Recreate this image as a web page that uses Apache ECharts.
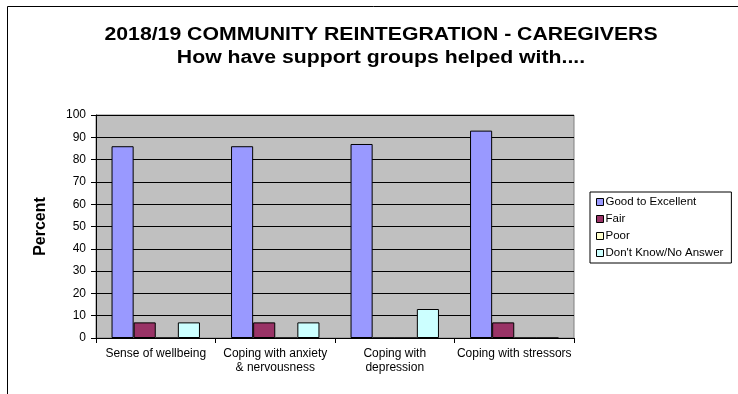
<!DOCTYPE html>
<html>
<head>
<meta charset="utf-8">
<script src="https://cdn.jsdelivr.net/npm/echarts@6/dist/echarts.min.js"></script>
<style>
  html, body { margin: 0; padding: 0; background: #fff; }
  #chart { width: 738px; height: 394px; }
</style>
</head>
<body>
<div id="chart"></div>
<script>
// categories and values
var categories = ['Sense of wellbeing', 'Coping with anxiety\n& nervousness', 'Coping with\ndepression', 'Coping with stressors'];
var goodToExcellent = [86, 86, 87, 93];
var fair = [7, 7, 0, 7];
var poor = [0, 0, 0, 0];
var dontKnow = [7, 7, 13, 0];
var yTicks = [0, 10, 20, 30, 40, 50, 60, 70, 80, 90, 100];
var titleLines = ['2018/19 COMMUNITY REINTEGRATION - CAREGIVERS', 'How have support groups helped with....'];

var font = 'Arial, "Liberation Sans", sans-serif';

function bar(name, data, color) {
  return {
    name: name,
    type: 'bar',
    data: data,
    barGap: '0%',
    barCategoryGap: '26%',
    itemStyle: { color: color, borderColor: '#000', borderWidth: 1 },
    emphasis: { disabled: true }
  };
}

// title text is a bit wider than plain Arial in the original, so stretch it
function titleText(str, y) {
  return {
    type: 'text',
    x: 381,
    y: y,
    scaleX: 1.18,
    silent: true,
    style: {
      text: str,
      font: 'bold 18px ' + font,
      fill: '#000',
      textAlign: 'center',
      textVerticalAlign: 'middle'
    }
  };
}

var chart = echarts.init(document.getElementById('chart'));
chart.setOption({
  animation: false,
  textStyle: { fontFamily: font },
  graphic: [
    {
      type: 'rect',
      shape: { x: 7.5, y: 6.5, width: 800, height: 500 },
      style: { fill: 'none', stroke: '#000', lineWidth: 1 },
      silent: true
    },
    titleText(titleLines[0], 35),
    titleText(titleLines[1], 58)
  ],
  legend: {
    orient: 'vertical',
    left: 590,
    top: 192,
    padding: [4, 8, 4, 6],
    itemWidth: 7,
    itemHeight: 7,
    itemGap: 5,
    borderColor: '#000',
    borderWidth: 1,
    icon: 'rect',
    itemStyle: { borderColor: '#000', borderWidth: 1 },
    textStyle: { fontSize: 11.5, color: '#000', fontFamily: font, padding: [0, 0, 0, -3] },
    data: ['Good to Excellent', 'Fair', 'Poor', "Don't Know/No Answer"]
  },
  grid: {
    left: 96,
    right: 164,
    top: 115,
    bottom: 56,
    show: true,
    backgroundColor: '#C0C0C0',
    borderColor: '#808080',
    borderWidth: 1
  },
  xAxis: {
    type: 'category',
    data: categories,
    axisLine: { lineStyle: { color: '#000' } },
    axisTick: { show: true, length: 5, lineStyle: { color: '#000' } },
    axisLabel: { fontSize: 12, color: '#000', interval: 0, lineHeight: 14, margin: 9 }
  },
  yAxis: {
    type: 'value',
    min: yTicks[0],
    max: yTicks[yTicks.length - 1],
    interval: 10,
    name: 'Percent',
    nameLocation: 'middle',
    nameGap: 47,
    nameTextStyle: { fontSize: 16, fontWeight: 'bold', color: '#000' },
    axisLine: { show: true, lineStyle: { color: '#000' } },
    axisTick: { show: true, length: 5, lineStyle: { color: '#000' } },
    axisLabel: { fontSize: 12, color: '#000', margin: 10 },
    splitLine: { show: true, lineStyle: { color: '#000', width: 1 } }
  },
  series: [
    bar('Good to Excellent', goodToExcellent, '#9999FF'),
    bar('Fair', fair, '#993366'),
    bar('Poor', poor, '#FFFFCC'),
    bar("Don't Know/No Answer", dontKnow, '#CCFFFF')
  ]
});
</script>
</body>
</html>
